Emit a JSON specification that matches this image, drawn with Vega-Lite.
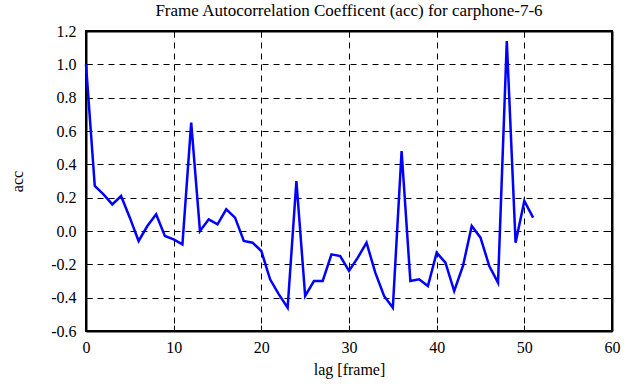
{
  "$schema": "https://vega.github.io/schema/vega-lite/v6.json",
  "width": 526,
  "height": 300,
  "autosize": {"type": "none"},
  "padding": {"left": 86, "top": 31, "right": 23, "bottom": 56},
  "background": "white",
  "title": {"text": "Frame Autocorrelation Coefficent (acc) for carphone-7-6", "font": "Liberation Serif", "fontSize": 17, "fontWeight": "normal", "color": "black", "anchor": "middle", "baseline": "alphabetic", "offset": 1, "dy": 11},
  "config": {
    "font": "Liberation Serif",
    "style": {"guide-label": {"font": "Liberation Serif", "fontSize": 16, "fill": "black"}, "guide-title": {"font": "Liberation Serif", "fontSize": 16}},
    "view": {"stroke": "black", "strokeWidth": 2},
    "axis": {"labelFont": "Liberation Serif", "labelFontSize": 16, "labelColor": "black", "titleFont": "Liberation Serif", "titleFontSize": 16, "titleFontWeight": "normal", "titleColor": "black", "domainColor": "black", "domainWidth": 2, "tickColor": "black", "tickWidth": 1, "tickSize": -6, "gridColor": "black", "gridDash": [6, 5], "gridWidth": 1, "gridOpacity": 1}
  },
  "data": {"values": [
    {"lag": 0, "acc": 1.0}, {"lag": 1, "acc": 0.27}, {"lag": 2, "acc": 0.22}, {"lag": 3, "acc": 0.16}, {"lag": 4, "acc": 0.21},
    {"lag": 5, "acc": 0.08}, {"lag": 6, "acc": -0.06}, {"lag": 7, "acc": 0.03}, {"lag": 8, "acc": 0.10}, {"lag": 9, "acc": -0.03},
    {"lag": 10, "acc": -0.05}, {"lag": 11, "acc": -0.08}, {"lag": 12, "acc": 0.65}, {"lag": 13, "acc": 0.0}, {"lag": 14, "acc": 0.07},
    {"lag": 15, "acc": 0.04}, {"lag": 16, "acc": 0.13}, {"lag": 17, "acc": 0.08}, {"lag": 18, "acc": -0.06}, {"lag": 19, "acc": -0.07},
    {"lag": 20, "acc": -0.12}, {"lag": 21, "acc": -0.29}, {"lag": 22, "acc": -0.38}, {"lag": 23, "acc": -0.46}, {"lag": 24, "acc": 0.30},
    {"lag": 25, "acc": -0.39}, {"lag": 26, "acc": -0.30}, {"lag": 27, "acc": -0.30}, {"lag": 28, "acc": -0.14}, {"lag": 29, "acc": -0.15},
    {"lag": 30, "acc": -0.24}, {"lag": 31, "acc": -0.16}, {"lag": 32, "acc": -0.07}, {"lag": 33, "acc": -0.25}, {"lag": 34, "acc": -0.39},
    {"lag": 35, "acc": -0.46}, {"lag": 36, "acc": 0.48}, {"lag": 37, "acc": -0.30}, {"lag": 38, "acc": -0.29}, {"lag": 39, "acc": -0.33},
    {"lag": 40, "acc": -0.13}, {"lag": 41, "acc": -0.19}, {"lag": 42, "acc": -0.36}, {"lag": 43, "acc": -0.21}, {"lag": 44, "acc": 0.03},
    {"lag": 45, "acc": -0.04}, {"lag": 46, "acc": -0.21}, {"lag": 47, "acc": -0.31}, {"lag": 48, "acc": 1.14}, {"lag": 49, "acc": -0.07},
    {"lag": 50, "acc": 0.18}, {"lag": 51, "acc": 0.08}
  ]},
  "layer": [
    {
      "mark": {"type": "line", "color": "#0000ff", "strokeWidth": 2.5},
      "encoding": {
        "x": {"field": "lag", "type": "quantitative", "scale": {"domain": [0, 60], "nice": false}, "axis": {"title": "lag [frame]", "values": [0, 10, 20, 30, 40, 50, 60], "labelFont": "Liberation Serif", "labelFontSize": 16, "labelPadding": 14, "titlePadding": 6, "labelFlush": false}},
        "y": {"field": "acc", "type": "quantitative", "scale": {"domain": [-0.6, 1.2], "nice": false, "zero": false}, "axis": {"title": "acc", "values": [-0.6, -0.4, -0.2, 0, 0.2, 0.4, 0.6, 0.8, 1, 1.2], "labelExpr": "datum.value < 0 ? '-' + format(-datum.value, '') : datum.label", "labelFont": "Liberation Serif", "labelFontSize": 16, "labelPadding": 16, "titlePadding": 25, "labelFlush": false}}
      }
    },
    {
      "mark": {"type": "line", "opacity": 0},
      "encoding": {
        "x": {"field": "lag", "type": "quantitative", "axis": {"orient": "top", "title": null, "labels": false, "grid": false, "values": [0, 10, 20, 30, 40, 50, 60]}},
        "y": {"field": "acc", "type": "quantitative", "axis": {"orient": "right", "title": null, "labels": false, "grid": false, "values": [-0.6, -0.4, -0.2, 0, 0.2, 0.4, 0.6, 0.8, 1, 1.2]}}
      }
    }
  ],
  "resolve": {"axis": {"x": "independent", "y": "independent"}}
}
